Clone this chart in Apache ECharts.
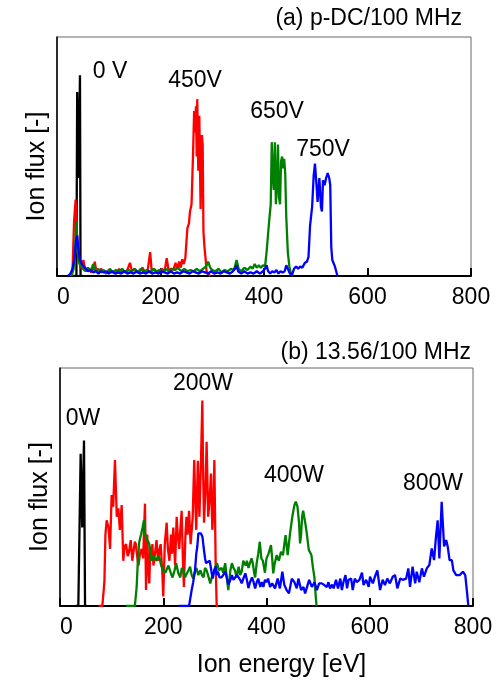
<!DOCTYPE html>
<html>
<head>
    <meta charset="utf-8">
    <title>Ion energy distributions</title>
    <style>
        html, body { margin: 0; padding: 0; background: #fff; }
        #main { width: 500px; height: 682px; }
    </style>
</head>
<body>
<div id="main"></div>
<script src="https://cdn.jsdelivr.net/npm/echarts@6/dist/echarts.min.js"></script>
<script>
    // energy axis ticks [eV]
    var energyTicks = [0, 200, 400, 600, 800];

    // (a) p-DC/100 MHz : [ion energy eV, ion flux a.u.]
    var pdc0V = [[20, 0], [37.5, 0], [39, 0.77], [41.8, 0.41], [44.4, 0.84], [45.5, 0], [50, 0]];
    var pdc450V = [[26, 0], [30, 0.02], [33, 0.23], [36, 0.32], [38, 0.2], [41, 0.08], [44, 0.05], [48, 0.03], [51, 0.067], [54, 0.03],
        [58, 0.02], [62, 0.03], [66, 0.015], [70, 0.03], [73, 0.06], [76, 0.02], [80, 0.015], [85, 0.03], [90, 0.02], [95, 0.01],
        [100, 0.025], [105, 0.015], [110, 0.02], [115, 0.01], [120, 0.03], [125, 0.015], [130, 0.02], [135, 0.02], [141, 0.055],
        [145, 0.02], [150, 0.03], [155, 0.015], [160, 0.02], [165, 0.035], [170, 0.015], [175, 0.02], [180, 0.1], [183, 0.02],
        [188, 0.03], [193, 0.015], [198, 0.02], [203, 0.03], [208, 0.02], [212, 0.075], [216, 0.02], [220, 0.03], [225, 0.025],
        [229, 0.055], [232, 0.03], [236, 0.06], [239, 0.035], [242, 0.07], [245, 0.05], [248, 0.075], [250, 0.14], [252, 0.2],
        [255, 0.22], [257, 0.27], [260, 0.3], [263, 0.52], [265, 0.69], [267, 0.6], [268.5, 0.71], [270, 0.5], [271, 0.74],
        [273, 0.44], [275, 0.67], [277.5, 0.28], [280, 0.59], [281.5, 0.55], [283, 0.185], [285, 0.12], [287, 0.075], [289, 0.02],
        [292, 0.01], [296, 0]];
    var pdc650V = [[28, 0], [32, 0.03], [35, 0.1], [37, 0.23], [39, 0.12], [42, 0.06], [46, 0.04], [50, 0.03], [55, 0.02], [60, 0.035],
        [65, 0.02], [70, 0.05], [74, 0.02], [80, 0.03], [85, 0.015], [90, 0.025], [96, 0.01], [102, 0.03], [108, 0.015], [114, 0.025],
        [120, 0.02], [126, 0.03], [132, 0.015], [138, 0.025], [144, 0.02], [150, 0.03], [156, 0.015], [162, 0.03], [168, 0.02],
        [174, 0.025], [180, 0.015], [186, 0.03], [192, 0.02], [198, 0.025], [204, 0.015], [210, 0.03], [216, 0.02], [222, 0.03],
        [228, 0.025], [234, 0.035], [240, 0.02], [246, 0.03], [252, 0.02], [258, 0.025], [264, 0.02], [270, 0.03], [276, 0.02],
        [282, 0.03], [288, 0.04], [292, 0.06], [296, 0.035], [300, 0.025], [306, 0.02], [312, 0.03], [318, 0.015], [324, 0.025],
        [330, 0.02], [336, 0.03], [342, 0.025], [347, 0.067], [351, 0.03], [356, 0.02], [362, 0.035], [368, 0.025], [374, 0.04],
        [378, 0.03], [382, 0.05], [386, 0.035], [390, 0.045], [394, 0.035], [398, 0.045], [402, 0.04], [405, 0.1], [408, 0.18],
        [410, 0.23], [413, 0.3], [415, 0.56], [417, 0.42], [419, 0.36], [421, 0.56], [423, 0.3], [425, 0.38], [427, 0.55],
        [429, 0.33], [431, 0.3], [433, 0.48], [435, 0.5], [437, 0.45], [439, 0.49], [441, 0.43], [443, 0.25], [446, 0.1],
        [449, 0.04], [452, 0.01], [456, 0]];
    var pdc750V = [[22, 0], [26, 0.01], [30, 0.03], [34, 0.08], [37, 0.15], [39, 0.17], [41, 0.12], [44, 0.07], [48, 0.05], [52, 0.04],
        [56, 0.03], [60, 0.02], [65, 0.025], [70, 0.015], [75, 0.02], [80, 0.01], [85, 0.02], [90, 0.015], [95, 0.02], [100, 0.01],
        [106, 0.02], [112, 0.01], [118, 0.015], [124, 0.01], [130, 0.02], [136, 0.01], [142, 0.015], [148, 0.01], [154, 0.02],
        [160, 0.01], [166, 0.015], [172, 0.01], [178, 0.02], [184, 0.01], [190, 0.015], [196, 0.01], [202, 0.02], [208, 0.015],
        [214, 0.01], [220, 0.02], [226, 0.01], [232, 0.015], [238, 0.01], [244, 0.02], [250, 0.015], [256, 0.01], [262, 0.02],
        [268, 0.015], [274, 0.01], [280, 0.02], [286, 0.015], [292, 0.01], [298, 0.02], [304, 0.01], [310, 0.015], [316, 0.01],
        [322, 0.02], [328, 0.015], [334, 0.01], [340, 0.02], [344, 0.03], [347, 0.045], [350, 0.02], [356, 0.01], [362, 0.02],
        [368, 0.01], [374, 0.015], [380, 0.01], [386, 0.02], [392, 0.01], [398, 0.02], [402, 0.03], [405, 0.045], [408, 0.02],
        [412, 0.01], [416, 0.02], [420, 0.015], [424, 0.025], [428, 0.01], [432, 0.02], [436, 0.015], [440, 0.02], [443, 0.045],
        [446, 0.03], [450, 0.01], [454, 0.005], [458, 0.03], [462, 0.04], [466, 0.03], [470, 0.04], [474, 0.035], [479, 0.055],
        [483, 0.06], [486, 0.08], [489, 0.21], [493, 0.29], [496, 0.42], [498.5, 0.47], [501.5, 0.38], [503.5, 0.31], [507, 0.41],
        [510, 0.29], [512, 0.27], [514, 0.4], [517, 0.38], [520, 0.41], [523, 0.43], [526, 0.41], [528, 0.38], [530, 0.12],
        [532, 0.067], [537, 0.04], [542, 0]];

    // (b) 13.56/100 MHz
    var rf0W = [[30, 0], [35.5, 0], [40, 0.64], [43, 0.33], [46.5, 0.695], [48.5, 0], [52, 0]];
    var rf200W = [[75, 0], [82, 0], [86, 0.1], [88, 0.3], [90.4, 0.36], [94, 0.33], [97, 0.24], [100, 0.466], [103, 0.417],
        [106.5, 0.613], [110, 0.375], [113, 0.41], [116, 0.32], [119.5, 0.424], [122.6, 0.19], [125, 0.25], [128, 0.26],
        [131, 0.21], [133, 0.22], [137, 0.277], [140, 0.19], [142, 0.19], [145, 0.27], [147, 0.26], [150, 0.2], [152, 0.17],
        [155, 0.22], [158, 0.24], [161, 0.2], [164.6, 0.43], [166.6, 0.067], [169, 0.3], [171, 0.15], [173, 0.095], [175, 0.25],
        [177, 0.2], [179, 0.26], [181, 0.17], [184, 0.22], [187, 0.277], [190, 0.19], [193, 0.24], [195, 0.26], [198, 0.15],
        [200, 0.04], [203, 0.26], [206.6, 0.35], [209, 0.24], [212, 0.19], [215, 0.3], [217, 0.22], [219.5, 0.33], [223, 0.17],
        [226, 0.375], [228, 0.3], [231, 0.24], [233, 0.32], [235.6, 0.4], [238, 0.2], [240, 0.08], [243, 0.3], [245, 0.375],
        [247, 0.3], [250, 0.4], [253, 0.26], [257, 0.37], [260, 0.613], [262, 0.45], [264, 0.32], [267, 0.61], [270, 0.375],
        [273, 0.6], [275.7, 0.863], [277, 0.6], [279, 0.35], [282, 0.5], [284, 0.69], [287, 0.375], [290, 0.45], [292.5, 0.557],
        [295, 0.32], [297, 0.4], [299, 0.613], [301.5, 0.18], [303.5, 0], [306, 0]];
    var rf400W = [[128, 0], [145, 0], [148.5, 0.08], [151, 0.2], [153.6, 0.27], [157, 0.3], [160, 0.33], [162.7, 0.36], [165, 0.3],
        [168, 0.28], [171, 0.27], [173, 0.26], [177, 0.19], [181, 0.21], [184, 0.2], [187, 0.19], [190, 0.21], [193, 0.2],
        [196, 0.17], [200, 0.15], [204, 0.14], [207, 0.145], [210, 0.17], [213, 0.165], [216, 0.13], [218, 0.12], [222, 0.15],
        [225, 0.18], [229, 0.14], [233, 0.12], [236, 0.16], [239, 0.15], [242, 0.12], [245, 0.115], [249, 0.15], [252, 0.165],
        [255, 0.13], [258, 0.115], [261, 0.14], [264, 0.16], [268, 0.13], [272, 0.15], [275, 0.13], [278, 0.12], [281, 0.16],
        [284, 0.15], [288, 0.12], [291, 0.095], [294, 0.12], [297, 0.135], [300, 0.16], [304, 0.18], [308, 0.15], [313, 0.16],
        [316, 0.14], [320, 0.18], [323, 0.12], [326, 0.067], [330, 0.15], [333, 0.18], [336, 0.16], [339, 0.15], [342, 0.12],
        [346, 0.165], [349, 0.13], [352, 0.145], [355, 0.19], [357, 0.18], [360, 0.17], [362, 0.19], [365, 0.16], [368, 0.165],
        [371, 0.2], [373.5, 0.18], [376, 0.14], [378, 0.12], [381, 0.18], [384, 0.22], [387, 0.27], [390, 0.2], [393, 0.19],
        [397, 0.14], [400, 0.2], [404, 0.22], [408.7, 0.256], [411, 0.2], [413, 0.137], [416, 0.18], [419.7, 0.214], [422, 0.2],
        [424, 0.19], [428, 0.228], [432, 0.214], [434.5, 0.26], [437, 0.298], [441, 0.214], [445.6, 0.305], [450, 0.375],
        [454, 0.424], [456.6, 0.438], [460, 0.417], [463, 0.35], [465, 0.263], [467, 0.3], [469, 0.375], [471, 0.4], [473, 0.403],
        [475, 0.35], [478, 0.305], [482, 0.235], [487, 0.214], [490, 0.16], [492.7, 0.123], [495, 0.05], [497, 0]];
    var rf800W = [[230, 0], [250, 0], [255, 0.067], [258, 0.1], [261.5, 0.15], [264, 0.22], [266, 0.25], [268, 0.305], [270, 0.312],
        [273, 0.305], [276, 0.29], [278, 0.25], [281, 0.2], [283, 0.18], [286, 0.18], [290, 0.19], [293, 0.15], [295.6, 0.115],
        [299, 0.15], [302, 0.165], [304, 0.13], [306, 0.145], [309, 0.12], [313, 0.12], [316, 0.13], [320, 0.145], [323, 0.12],
        [326, 0.09], [330, 0.11], [333, 0.13], [336, 0.11], [339, 0.115], [343, 0.13], [346, 0.137], [349, 0.11], [352, 0.095],
        [356, 0.12], [359, 0.137], [362, 0.11], [365, 0.075], [368, 0.1], [372, 0.12], [375, 0.1], [378, 0.074], [381, 0.1],
        [384, 0.115], [388, 0.08], [391, 0.1], [394, 0.08], [397, 0.11], [400, 0.1], [403, 0.115], [407, 0.08], [411, 0.095],
        [416.5, 0.074], [421.6, 0.115], [426, 0.074], [430.7, 0.144], [434.6, 0.088], [439, 0.067], [443.5, 0.053], [449, 0.115],
        [454, 0.1], [458.6, 0.074], [461.8, 0.115], [467, 0.067], [471.6, 0.08], [474.8, 0.053], [478, 0.046], [482.6, 0.11],
        [487.8, 0.08], [493, 0.1], [497.5, 0.067], [502, 0.095], [507, 0.095], [512, 0.088], [517, 0.08], [520, 0.1], [523, 0.074],
        [527, 0.09], [530, 0.074], [534.6, 0.11], [538.5, 0.074], [543, 0.115], [546, 0.067], [549, 0.1], [553, 0.13], [556, 0.074],
        [559, 0.11], [564, 0.115], [567, 0.067], [571, 0.115], [575, 0.1], [580, 0.11], [585, 0.14], [588, 0.088], [593, 0.11],
        [598, 0.08], [600.5, 0.123], [606, 0.095], [610, 0.123], [614.7, 0.15], [620, 0.067], [625, 0.11], [629.5, 0.088],
        [634, 0.115], [639, 0.095], [644.5, 0.123], [649, 0.13], [653.5, 0.074], [659, 0.115], [664, 0.11], [670.5, 0.115],
        [674.7, 0.158], [678, 0.08], [683, 0.165], [688, 0.095], [691, 0.144], [696, 0.1], [701, 0.158], [705, 0.123],
        [710.5, 0.158], [715.4, 0.172], [720, 0.242], [724.6, 0.193], [728, 0.284], [731.5, 0.36], [734.8, 0.2], [739.3, 0.438],
        [744, 0.25], [748, 0.277], [751, 0.25], [754.6, 0.193], [759, 0.193], [762, 0.15], [767.5, 0.13], [774, 0.13],
        [780.5, 0.144], [785, 0.13], [788, 0.067], [791, 0]];

    var FONT = 'Liberation Sans, Arial, sans-serif';

    function xAxisOf(grid, withName) {
        var ax = {
            type: 'value', gridIndex: grid,
            min: energyTicks[0], max: energyTicks[energyTicks.length - 1], interval: energyTicks[1] - energyTicks[0],
            axisLine: {show: true, onZero: false, lineStyle: {color: '#000', width: 2}},
            axisTick: {show: true, inside: true, length: 8, lineStyle: {color: '#000', width: 2}},
            axisLabel: {color: '#000', fontSize: 23, fontFamily: FONT, margin: 10, alignMinLabel: 'left'},
            splitLine: {show: false}
        };
        if (withName) {
            ax.name = 'Ion energy [eV]';
            ax.nameLocation = 'middle';
            ax.nameGap = 47;
            ax.nameTextStyle = {color: '#000', fontSize: 25, fontFamily: FONT, padding: [0, 0, 0, 30]};
        }
        return ax;
    }

    function yAxisOf(grid) {
        return {
            type: 'value', gridIndex: grid, min: 0, max: 1,
            axisLine: {show: true, lineStyle: {color: '#000', width: 1.5}},
            axisTick: {show: false}, axisLabel: {show: false}, splitLine: {show: false},
            name: 'Ion flux [-]', nameLocation: 'middle', nameGap: 7, nameRotate: 90,
            nameTextStyle: {color: '#000', fontSize: 25, fontFamily: FONT, padding: [0, 20, 0, 0]}
        };
    }

    function line(name, data, color, grid) {
        return {
            name: name, type: 'line', data: data, xAxisIndex: grid, yAxisIndex: grid,
            showSymbol: false, symbol: 'none', lineStyle: {color: color, width: 2.3}, itemStyle: {color: color},
            z: 2
        };
    }

    function note(text, x, y) {
        return {
            type: 'text', x: x, y: y, z: 10,
            style: {text: text, fill: '#000', font: '23px ' + FONT, textAlign: 'center', textVerticalAlign: 'middle'}
        };
    }

    var chart = echarts.init(document.getElementById('main'), null, {renderer: 'canvas'});
    chart.setOption({
        animation: false,
        backgroundColor: '#fff',
        textStyle: {fontFamily: FONT},
        title: [
            {text: '(a) p-DC/100 MHz', right: 38, top: 7, padding: 0,
                textStyle: {color: '#000', fontSize: 23, fontWeight: 'normal', fontFamily: FONT}},
            {text: '(b) 13.56/100 MHz', right: 29, top: 341, padding: 0,
                textStyle: {color: '#000', fontSize: 23, fontWeight: 'normal', fontFamily: FONT}}
        ],
        grid: [
            {left: 57, right: 29, top: 37, height: 239, show: true, borderColor: '#666', borderWidth: 1},
            {left: 60, right: 27, top: 368, height: 238, show: true, borderColor: '#666', borderWidth: 1}
        ],
        xAxis: [xAxisOf(0, false), xAxisOf(1, true)],
        yAxis: [yAxisOf(0), yAxisOf(1)],
        series: [
            line('0 V', pdc0V, '#000', 0),
            line('450V', pdc450V, '#ff0000', 0),
            line('650V', pdc650V, '#008000', 0),
            line('750V', pdc750V, '#0000ff', 0),
            line('0W', rf0W, '#000', 1),
            line('200W', rf200W, '#ff0000', 1),
            line('400W', rf400W, '#008000', 1),
            line('800W', rf800W, '#0000ff', 1)
        ],
        graphic: [
            note('0 V', 110, 72),
            note('450V', 195, 81),
            note('650V', 277, 112),
            note('750V', 323, 150),
            note('0W', 83, 419),
            note('200W', 203, 384),
            note('400W', 294, 476),
            note('800W', 433, 484)
        ]
    });
</script>
</body>
</html>
